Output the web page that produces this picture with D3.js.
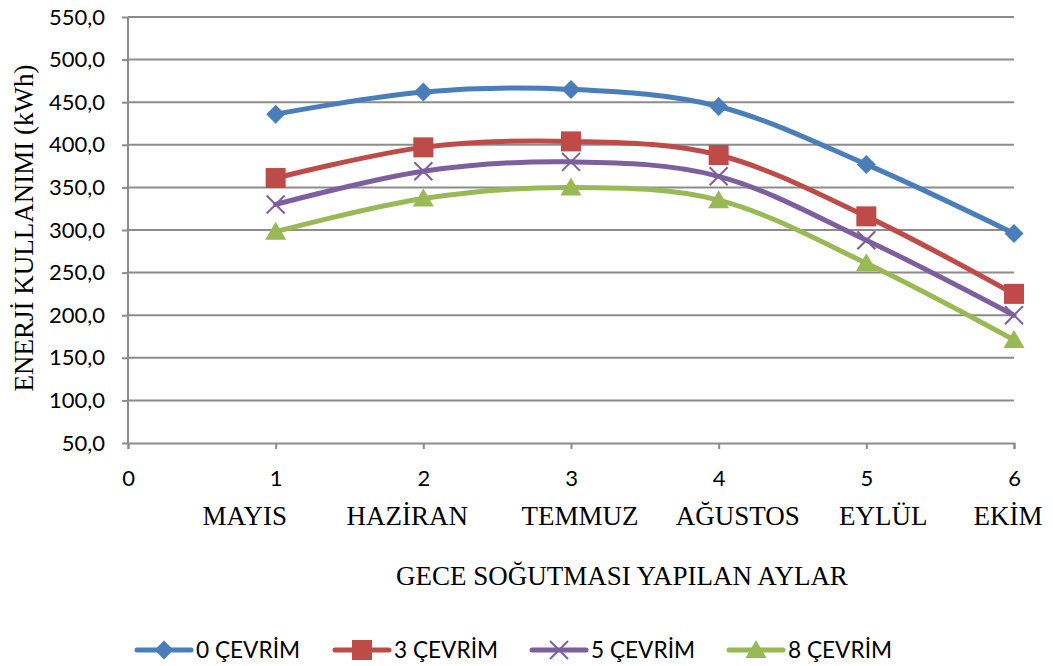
<!DOCTYPE html>
<html><head><meta charset="utf-8">
<script src="https://cdn.jsdelivr.net/npm/d3@7"></script>
<style>body{margin:0;background:#fff}</style>
</head><body>
<svg id="c" width="1053" height="666"></svg>
<script>
const xTicks = [0, 1, 2, 3, 4, 5, 6];
const months = ["MAYIS", "HAZİRAN", "TEMMUZ", "AĞUSTOS", "EYLÜL", "EKİM"];
const seriesNames = ["0 ÇEVRİM", "3 ÇEVRİM", "5 ÇEVRİM", "8 ÇEVRİM"];
const s0 = [436, 462, 465, 445, 377, 296];
const s3 = [361, 397, 404, 388, 316, 225];
const s5 = [330, 369, 380, 363, 288, 200];
const s8 = [298, 337, 350, 335, 261, 171];
const yTicks = [50, 100, 150, 200, 250, 300, 350, 400, 450, 500, 550];

const colors = ["#4A7EBB", "#BE4B48", "#7D5FA0", "#98B954"];
const shapes = ["diamond", "square", "x", "triangle"];
const monthShift = [-31, -16, 9, 19, 17, -6];

const svg = d3.select("#c");
const x = d3.scaleLinear().domain([0, 6]).range([128, 1014]);
const y = d3.scaleLinear().domain([50, 550]).range([443, 17]);
const sans = "Lato, 'Open Sans', sans-serif";
const serif = "'Liberation Serif', 'Times New Roman', serif";

// gridlines
svg.append("g").selectAll("line").data(yTicks.slice(1)).join("line")
  .attr("x1", x(0)).attr("x2", x(6)).attr("y1", d => y(d)).attr("y2", d => y(d))
  .attr("stroke", "#8c8c8c").attr("stroke-width", 2);

// y axis
const yAxis = svg.append("g").attr("transform", `translate(${x(0)},0)`)
  .call(d3.axisLeft(y).tickValues(yTicks).tickSize(6).tickPadding(17)
    .tickFormat(d => d3.format(".1f")(d).replace(".", ",")));
yAxis.select(".domain").remove();
yAxis.append("line").attr("x1", 0).attr("x2", 0).attr("y1", y(550)).attr("y2", y(50))
  .attr("stroke", "#8c8c8c").attr("stroke-width", 2);
yAxis.selectAll(".tick line").attr("stroke", "#8c8c8c").attr("stroke-width", 2);
yAxis.selectAll("text").attr("font-family", sans).attr("font-size", 22).attr("fill", "#000");

// x axis
const xAxis = svg.append("g").attr("transform", `translate(0,${y(50)})`)
  .call(d3.axisBottom(x).tickValues(xTicks).tickSize(6).tickPadding(21).tickFormat(d3.format("d")));
xAxis.select(".domain").attr("stroke", "#8c8c8c").attr("stroke-width", 2);
xAxis.selectAll(".tick line").attr("stroke", "#8c8c8c").attr("stroke-width", 2);
xAxis.selectAll("text").attr("font-family", sans).attr("font-size", 22).attr("fill", "#000");

// month labels
svg.append("g").selectAll("text").data(months).join("text")
  .attr("x", (d, i) => x(i + 1) + monthShift[i]).attr("y", 525)
  .attr("text-anchor", "middle").attr("font-family", serif).attr("font-size", 27)
  .text(d => d);

svg.append("text").attr("x", 622).attr("y", 585).attr("text-anchor", "middle")
  .attr("font-family", serif).attr("font-size", 27).text("GECE SOĞUTMASI YAPILAN AYLAR");

svg.append("text").attr("transform", "translate(33,228) rotate(-90)")
  .attr("text-anchor", "middle").attr("font-family", serif).attr("font-size", 27)
  .text("ENERJİ KULLANIMI (kWh)");

function marker(g, shape, color, cx, cy) {
  if (shape === "diamond") {
    g.append("path").attr("d", `M${cx},${cy-9.5}L${cx+9.5},${cy}L${cx},${cy+9.5}L${cx-9.5},${cy}Z`).attr("fill", color);
  } else if (shape === "square") {
    g.append("rect").attr("x", cx-10).attr("y", cy-10).attr("width", 20).attr("height", 20).attr("fill", color);
  } else if (shape === "x") {
    g.append("path").attr("d", `M${cx-9},${cy-9}L${cx+9},${cy+9}M${cx-9},${cy+9}L${cx+9},${cy-9}`)
      .attr("stroke", color).attr("stroke-width", 2).attr("fill", "none");
  } else {
    g.append("path").attr("d", `M${cx},${cy-10}L${cx+10.5},${cy+8}L${cx-10.5},${cy+8}Z`).attr("fill", color);
  }
}

const allSeries = [s0, s3, s5, s8];
const line = d3.line().x((d, i) => x(i + 1)).y(d => y(d)).curve(d3.curveCardinal.tension(0));
allSeries.forEach((s, k) => {
  const g = svg.append("g");
  g.append("path").datum(s).attr("d", line).attr("fill", "none")
    .attr("stroke", colors[k]).attr("stroke-width", 5).attr("stroke-linecap", "round");
  s.forEach((v, i) => marker(g, shapes[k], colors[k], x(i + 1), y(v)));
});

// legend
const legX = [137, 335, 532, 729];
seriesNames.forEach((n, k) => {
  const g = svg.append("g");
  const lx = legX[k], ly = 650;
  g.append("line").attr("x1", lx).attr("x2", lx + 54).attr("y1", ly).attr("y2", ly)
    .attr("stroke", colors[k]).attr("stroke-width", 5).attr("stroke-linecap", "round");
  marker(g, shapes[k], colors[k], lx + 27, ly);
  g.append("text").attr("x", lx + 59).attr("y", 658).attr("font-family", sans)
    .attr("font-size", 23).attr("textLength", 104).attr("lengthAdjust", "spacingAndGlyphs").text(n);
});
</script>
</body></html>
